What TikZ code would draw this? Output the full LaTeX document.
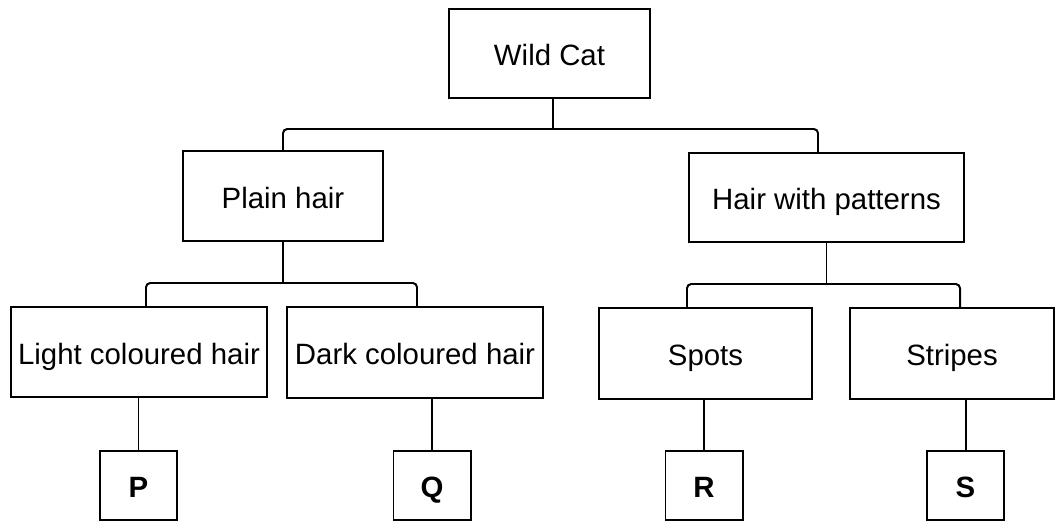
\documentclass[tikz,border=0pt]{standalone}
\usepackage{fontspec}
\setmainfont{Liberation Sans}
\usepackage{tikz}

\tikzset{
  box/.style={draw, line width=1.4pt, inner sep=0pt, text height=17.5pt, text depth=0pt,
    font=\fontsize{20.9}{24}\selectfont},
  leaf/.style={box, minimum width=1.925cm, minimum height=1.725cm, font=\fontsize{20.9}{24}\selectfont\bfseries},
  link/.style={line width=1.4pt, rounded corners=3pt}
}

\begin{document}
\begin{tikzpicture}[x=0.025cm,y=-0.025cm]
\useasboundingbox (0,0) rectangle (1056,521);

% the key levels
\node[box, minimum width=5.025cm, minimum height=2.225cm] (wild)    at (549.5,53.5) {Wild Cat};
\node[box, minimum width=5cm,     minimum height=2.25cm]  (plain)   at (283,196)    {Plain hair};
\node[box, minimum width=6.875cm, minimum height=2.225cm] (pattern) at (826.5,197.5) {Hair with patterns};

\node[box, minimum width=6.4cm,   minimum height=2.25cm]  (light)   at (139,352)    {Light coloured hair};
\node[box, minimum width=6.4cm,   minimum height=2.275cm] (dark)    at (415,352.5)  {Dark coloured hair};
\node[box, minimum width=5.325cm, minimum height=2.275cm] (spots)   at (705.5,353.5) {Spots};
\node[box, minimum width=5.1cm,   minimum height=2.275cm] (stripes) at (952,353.5)  {Stripes};

\node[leaf] (P) at (138.5,485.5) {P};
\node[leaf] (Q) at (432,485.5)   {Q};
\node[leaf] (R) at (704,485.5)   {R};
\node[leaf] (S) at (965.5,485.5) {S};

% branches
\coordinate (top)   at (553,129);
\coordinate (left)  at (284,283);
\coordinate (right) at (826,284);

\draw[link] ([xshift=0.0875cm]wild.south) -- (top);
\draw[link] (plain.north) |- (top) -| ([xshift=-0.2125cm]pattern.north);

\draw[link] (plain.south |- left) -- (plain.south);
\draw[link] ([xshift=0.175cm]light.north) |- (left) -| ([xshift=0.05cm]dark.north);

\draw[link] (pattern.south |- right) -- (pattern.south);
\draw[link] ([xshift=-0.4625cm]spots.north) |- (right) -| ([xshift=0.2cm]stripes.north);

\draw[link] (P.north) -- (P.north |- light.south);
\draw[link] (Q.north) -- (Q.north |- dark.south);
\draw[link] (R.north) -- (R.north |- spots.south);
\draw[link] (S.north) -- (S.north |- stripes.south);
\end{tikzpicture}
\end{document}
